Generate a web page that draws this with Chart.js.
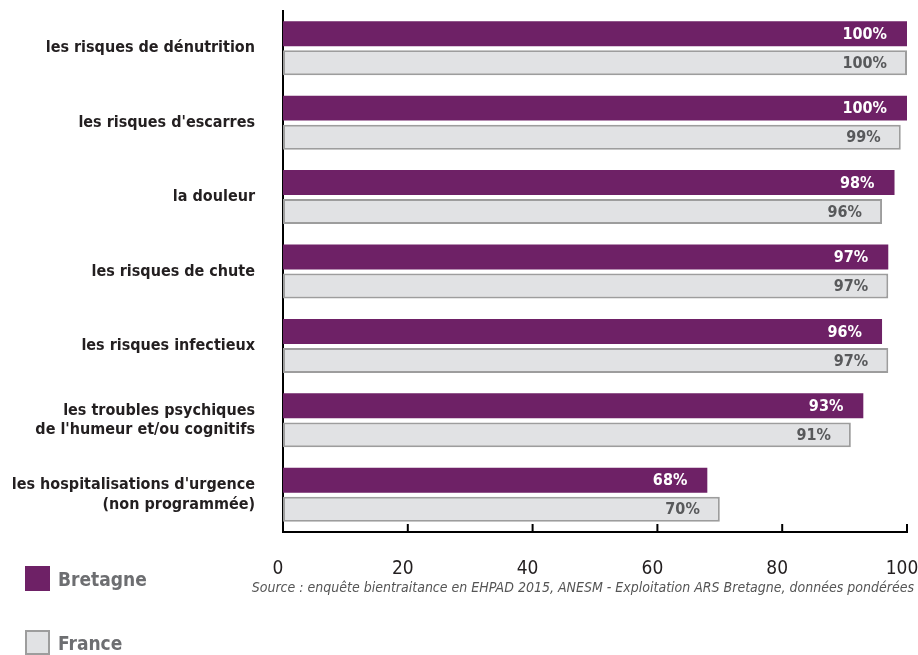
<!DOCTYPE html>
<html>
<head>
<meta charset="utf-8">
<script src="https://cdn.jsdelivr.net/npm/chart.js@4/dist/chart.umd.min.js"></script>
<style>
    body { margin: 0; background: #fff; }
    #wrap { position: relative; width: 918px; height: 655px; overflow: hidden; }
    .cond { font-family: 'Liberation Sans Narrow', 'DejaVu Sans Condensed', sans-serif; }
    .leg { position: absolute; left: 25px; display: flex; align-items: center; font-weight: bold; font-size: 19px; color: #6d6e71; }
    .leg span.box { display: inline-block; width: 25px; height: 25px; margin-right: 8px; box-sizing: border-box; }
    #source { position: absolute; right: 4px; top: 579px; font-style: italic; font-size: 14px; color: #555; }
</style>
</head>
<body>
<div id="wrap">
    <canvas id="barChart"></canvas>
    <div class="leg cond" style="top:566px"><span class="box" style="background:#6e2166"></span>Bretagne</div>
    <div class="leg cond" style="top:630px"><span class="box" style="background:#e1e2e4;border:2px solid #9d9d9d"></span>France</div>
    <div id="source" class="cond">Source : enquête bientraitance en EHPAD 2015, ANESM - Exploitation ARS Bretagne, données pondérées</div>
</div>
<script>
const categories = [
    'les risques de dénutrition',
    "les risques d'escarres",
    'la douleur',
    'les risques de chute',
    'les risques infectieux',
    ['les troubles psychiques', "de l'humeur et/ou cognitifs"],
    ["les hospitalisations d'urgence", '(non programmée)']
];
const bretagne = [100, 100, 98, 97, 96, 93, 68];
const france = [100, 99, 96, 97, 97, 91, 70];
const xTicks = [0, 20, 40, 60, 80, 100];

const FONT = "'Liberation Sans Narrow', 'DejaVu Sans Condensed', sans-serif";

// small tick marks drawn upward from the x axis
const tickMarks = {
    id: 'tickMarks',
    afterDraw(chart) {
        const ctx = chart.ctx;
        const x = chart.scales.x;
        const bottom = chart.chartArea.bottom;
        ctx.save();
        ctx.strokeStyle = '#000';
        ctx.lineWidth = 2;
        xTicks.forEach(v => {
            if (v === 0) return;
            const px = x.getPixelForValue(v);
            ctx.beginPath();
            ctx.moveTo(px, bottom - 8);
            ctx.lineTo(px, bottom);
            ctx.stroke();
        });
        ctx.restore();
    }
};

// percent labels at the end of each bar
const barLabels = {
    id: 'barLabels',
    afterDatasetsDraw(chart) {
        const ctx = chart.ctx;
        ctx.save();
        ctx.font = 'bold 16px ' + FONT;
        ctx.textAlign = 'right';
        ctx.textBaseline = 'middle';
        chart.data.datasets.forEach((ds, i) => {
            ctx.fillStyle = i === 0 ? '#ffffff' : '#58595b';
            chart.getDatasetMeta(i).data.forEach((bar, j) => {
                ctx.fillText(ds.data[j] + '%', bar.x - 20, bar.y + 1);
            });
        });
        ctx.restore();
    }
};

new Chart(document.getElementById('barChart').getContext('2d'), {
    type: 'bar',
    data: {
        labels: categories,
        datasets: [{
            label: 'Bretagne',
            data: bretagne,
            backgroundColor: '#6e2166',
            borderWidth: 0,
            barPercentage: 0.86,
            categoryPercentage: 0.78
        }, {
            label: 'France',
            data: france,
            backgroundColor: '#e1e2e4',
            borderColor: '#9d9d9d',
            borderWidth: 2,
            borderSkipped: false,
            barPercentage: 0.86,
            categoryPercentage: 0.78
        }]
    },
    options: {
        indexAxis: 'y',
        responsive: true,
        maintainAspectRatio: false,
        animation: false,
        layout: {
            autoPadding: false,
            padding: {top: 11, right: 11, left: 0, bottom: 0}
        },
        plugins: {
            legend: {display: false},
            tooltip: {enabled: false}
        },
        scales: {
            x: {
                min: 0,
                max: 100,
                afterFit: scale => {
                    scale.height = 123;
                    scale.paddingLeft = 0;
                    scale.paddingRight = 0;
                },
                afterBuildTicks: scale => { scale.ticks = xTicks.map(v => ({value: v})); },
                grid: {display: false, drawTicks: false},
                border: {display: true, color: '#000', width: 2},
                ticks: {
                    padding: 26,
                    labelOffset: -5,
                    color: '#231f20',
                    font: {family: FONT, size: 19}
                }
            },
            y: {
                afterFit: scale => {
                    scale.width = 283;
                    scale.paddingTop = 0;
                    scale.paddingBottom = 0;
                },
                grid: {display: false, drawTicks: false},
                border: {display: true, color: '#000', width: 2},
                ticks: {
                    padding: 28,
                    color: '#231f20',
                    font: {family: FONT, size: 16, weight: 'bold', lineHeight: 1.2}
                }
            }
        }
    },
    plugins: [tickMarks, barLabels]
});
</script>
</body>
</html>
